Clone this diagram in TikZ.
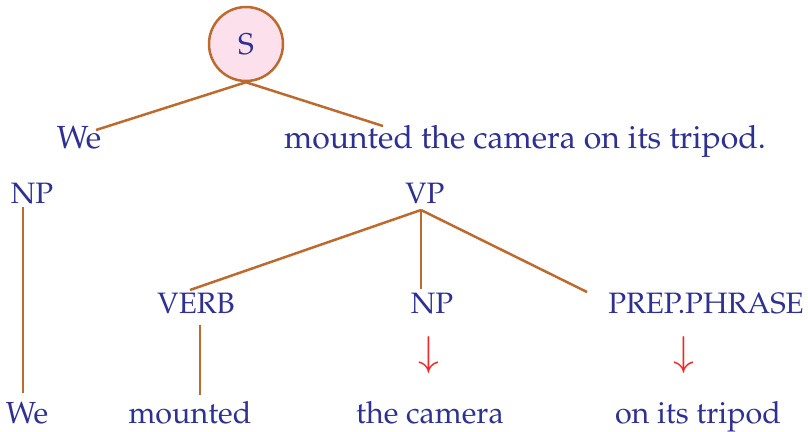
\documentclass[tikz,border=0pt]{standalone}
\usepackage[T1]{fontenc}
\usepackage{mathpazo}
\definecolor{txt}{HTML}{2E3192}
\definecolor{edge}{HTML}{BC6A2E}
\definecolor{pinkfill}{HTML}{FCE1EC}
\definecolor{arr}{HTML}{EE2A2A}
\tikzset{
  lbl/.style={anchor=base, inner sep=0pt, text=txt, font=\fontsize{29.5}{34}\selectfont},
  sentlbl/.style={lbl, font=\fontsize{32}{38}\selectfont},
  wordlbl/.style={lbl, font=\fontsize{30.5}{36}\selectfont},
  link/.style={draw=edge, line width=2.5pt},
  downarr/.style={anchor=center, inner sep=0pt, text=arr, font=\fontsize{40}{46}\selectfont}
}
\begin{document}
\begin{tikzpicture}[x=1pt,y=-1pt]
\useasboundingbox (0,0) rectangle (808,431);
% root
\node[circle, draw=edge, line width=2.5pt, fill=pinkfill, minimum size=74pt, inner sep=0pt, text=txt, font=\fontsize{30}{34}\selectfont] (S) at (246,44) {S};
% sentence level
\node[sentlbl] (we1) at (79,148) {We};
\node[sentlbl] (sent) at (525,148) {mounted the camera on its tripod.};
% phrase level
\node[lbl] (np1) at (32,203) {NP};
\node[lbl] (vp) at (425,203) {VP};
\node[lbl] (verb) at (196,313) {VERB};
\node[lbl] (np2) at (432,313) {NP};
\node[lbl] (pp) at (706,313) {PREP.PHRASE};
% arrows
\node[downarr] (a1) at (429,355) {$\downarrow$};
\node[downarr] (a2) at (684,355) {$\downarrow$};
% words
\node[wordlbl] (w1) at (27,423) {We};
\node[wordlbl] (w2) at (190,423) {mounted};
\node[wordlbl] (w3) at (430,423) {the camera};
\node[wordlbl] (w4) at (698,423) {on its tripod};
% connector end points
\coordinate (cWe) at (96,130);
\coordinate (cSent) at (383,126);
\coordinate (cNPtop) at (23,207);
\coordinate (cNPbot) at (23,393);
\coordinate (cVP) at (421,210);
\coordinate (cVerb) at (190,290);
\coordinate (cNP2) at (421,289);
\coordinate (cPP) at (587,292);
\coordinate (cVerbB) at (200,325);
\coordinate (cMount) at (200,395);
% connectors
\draw[link] (S.south) -- (cWe);
\draw[link] (S.south) -- (cSent);
\draw[link] (cNPtop) -- (cNPbot);
\draw[link] (cVP) -- (cVerb);
\draw[link] (cVP) -- (cNP2);
\draw[link] (cVP) -- (cPP);
\draw[link] (cVerbB) -- (cMount);
\end{tikzpicture}
\end{document}
